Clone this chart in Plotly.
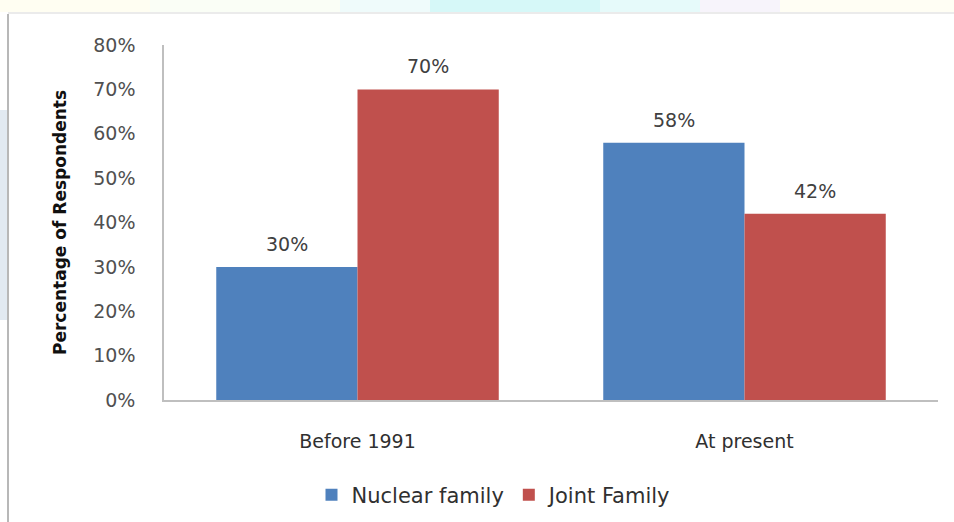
import plotly.graph_objects as go

categories = ["Before 1991", "At present"]
nuclear = [30, 58]
joint = [70, 42]
series_names = ["Nuclear family", "Joint Family"]
y_ticks = [0, 10, 20, 30, 40, 50, 60, 70, 80]

W, H = 954, 522
L, R, T, B = 164, 16, 45, 122
pw, ph = W - L - R, H - T - B

def px(xp):
    return (xp - L) / pw

def py(yp):
    return (H - B - yp) / ph

BLUE = "#4F81BD"
RED = "#C0504D"
FONT = "DejaVu Sans, sans-serif"

fig = go.Figure()
fig.add_trace(go.Bar(x=categories, y=nuclear, name=series_names[0],
                     marker=dict(color=BLUE, line=dict(width=0))))
fig.add_trace(go.Bar(x=categories, y=joint, name=series_names[1],
                     marker=dict(color=RED, line=dict(width=0))))

# value labels above each bar
group_w = pw / len(categories) * (1 - 0.27)
for vals, sign in ((nuclear, -1), (joint, 1)):
    for c, v in zip(categories, vals):
        fig.add_annotation(x=c, y=v, text=f"{v}%", showarrow=False,
                           xshift=sign * group_w / 4, yshift=23,
                           font=dict(family=FONT, size=19, color="#404040"))

shapes = [
    # frame of the chart area
    dict(type="line", xref="paper", yref="paper", x0=px(8), x1=px(8),
         y0=py(14), y1=py(522), line=dict(color="#A0A0A0", width=1.5)),
    dict(type="line", xref="paper", yref="paper", x0=px(8), x1=px(954),
         y0=py(13), y1=py(13), line=dict(color="#E4E4E4", width=1.5)),
]
# pale strip along the top edge
strip = [(0, 150, "#FFFEF2"), (150, 340, "#FAFEF6"), (340, 430, "#EFFBFB"),
         (430, 600, "#D6F8F8"), (600, 700, "#E6FAFA"), (700, 780, "#F7F4FB"),
         (780, 954, "#FFFEF4")]
for x0, x1, col in strip:
    shapes.append(dict(type="rect", xref="paper", yref="paper", x0=px(x0), x1=px(x1),
                       y0=py(12), y1=py(0), fillcolor=col, line=dict(width=0),
                       layer="below"))
# soft tint along the left edge
shapes.append(dict(type="rect", xref="paper", yref="paper", x0=px(0), x1=px(7),
                   y0=py(320), y1=py(110), fillcolor="#E2EAF2", line=dict(width=0),
                   layer="below"))

fig.update_layout(
    width=W, height=H,
    margin=dict(l=L, r=R, t=T, b=B, autoexpand=False),
    paper_bgcolor="white", plot_bgcolor="white",
    barmode="group", bargap=0.27, bargroupgap=0,
    font=dict(family=FONT, color="#404040"),
    showlegend=True,
    legend=dict(orientation="h", x=px(494), y=py(495), xanchor="center",
                yanchor="middle", font=dict(family=FONT, size=21, color="#303030"),
                itemwidth=30, traceorder="normal"),
    xaxis=dict(showgrid=False, showline=True, linecolor="#BFBFBF", linewidth=2,
               ticks="", ticklabelstandoff=23, automargin=False,
               tickfont=dict(family=FONT, size=19, color="#303030")),
    yaxis=dict(range=[0, 80], tickvals=y_ticks, ticktext=[f"{v}%" for v in y_ticks],
               showgrid=False, showline=True, linecolor="#BFBFBF", linewidth=1.5,
               ticks="", ticklabelstandoff=23, zeroline=False, automargin=False,
               tickfont=dict(family=FONT, size=19, color="#505050"),
               title=dict(text="<b>Percentage of Respondents</b>", standoff=22,
                          font=dict(family=FONT, size=17, color="#101010"))),
    shapes=shapes,
)

fig.write_html("out.html")
